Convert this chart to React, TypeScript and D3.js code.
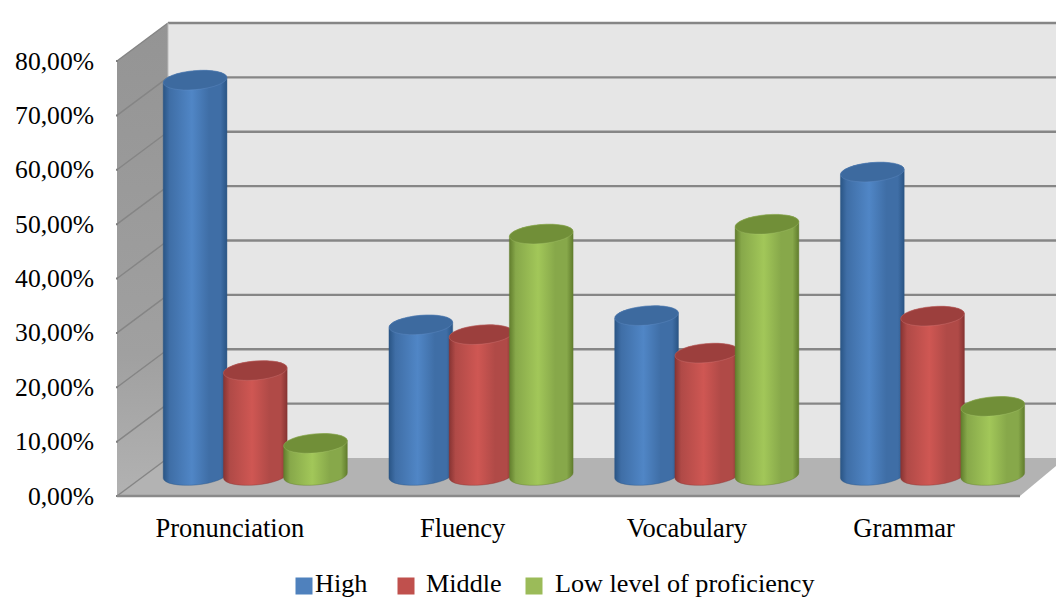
import React from "react";
import * as d3 from "d3";

const categories = ["Pronunciation", "Fluency", "Vocabulary", "Grammar"];
const seriesNames = ["High", "Middle", "Low level of proficiency"];
const high = [72.8, 27.8, 29.5, 55.9];
const middle = [19.4, 26, 22.6, 29.4];
const low = [6, 44.5, 46.3, 12.8];
const yTicks = [0, 10, 20, 30, 40, 50, 60, 70, 80];
const seriesValues = [high, middle, low];

const W = 1056;
const H = 598;
// Oblique projection: the back wall sits up and to the right of the front plane.
const frontLeft = 117;
const frontRight = 1020;
const depthX = 51;
const depthY = 38;
const barDepthX = 25.4;
const barDepthY = 20;
const barWidth = 64;
const ry = 9.5;
const tilt = -5;

const palettes = [
  { id: "hi", edge: "#2a5585", shade: "#3f6ea6", mid: "#5086c6", top: "#3d6a9f", rim: "#6f9ad0", swatch: "#4f81bd" },
  { id: "mi", edge: "#873433", shade: "#b04a47", mid: "#cf5753", top: "#9c3f3d", rim: "#dd8888", swatch: "#c0504d" },
  { id: "lo", edge: "#617d2d", shade: "#87a84a", mid: "#a2c759", top: "#718f38", rim: "#b3cf7c", swatch: "#9bbb59" },
];

const legendItems = [
  { sx: 296, tx: 315 },
  { sx: 398, tx: 426 },
  { sx: 526, tx: 555 },
];
const labelNudge = [0, 7, 5.5, -3];

const y = d3.scaleLinear().domain([0, 80]).range([496, 61]);
const xBand = d3.scaleBand<string>().domain(categories).range([frontLeft, frontRight]);
const xSeries = d3.scaleBand<string>().domain(seriesNames).range([-90.3, 90.3]);

const fmt = (v: number) => d3.format(".2f")(v).replace(".", ",") + "%";

function cylinderParts(cx: number, topY: number, baseY: number) {
  const rad = (tilt * Math.PI) / 180;
  const rx = barWidth / 2;
  const dx = rx * Math.cos(rad);
  const dy = rx * Math.sin(rad);
  const side =
    `M${cx - dx},${topY - dy}L${cx - dx},${baseY - dy}` +
    `A${rx},${ry} ${tilt} 0 0 ${cx + dx},${baseY + dy}` +
    `L${cx + dx},${topY + dy}` +
    `A${rx},${ry} ${tilt} 0 0 ${cx - dx},${topY - dy}Z`;
  return { side, rx };
}

function Gradients() {
  return (
    <defs>
      <linearGradient id="sideWall" x1="0" y1="0" x2="0" y2="1">
        <stop offset="0" stopColor="#949494" />
        <stop offset="0.7" stopColor="#a0a0a0" />
        <stop offset="1" stopColor="#b2b2b2" />
      </linearGradient>
      {palettes.map((p) => (
        <linearGradient key={p.id} id={`body-${p.id}`} x1="0" y1="0" x2="1" y2="0">
          <stop offset="0" stopColor={p.edge} />
          <stop offset="0.1" stopColor={p.shade} />
          <stop offset="0.45" stopColor={p.mid} />
          <stop offset="0.72" stopColor={p.shade} />
          <stop offset="0.9" stopColor={p.shade} />
          <stop offset="1" stopColor={p.edge} />
        </linearGradient>
      ))}
    </defs>
  );
}

export default function App() {
  const back = (v: number) => y(v) - depthY;
  return (
    <svg
      width={W}
      height={H}
      viewBox={`0 0 ${W} ${H}`}
      style={{ position: "absolute", left: 0, top: 0, background: "#fff" }}
      fontFamily="'Liberation Serif', serif"
    >
      <Gradients />
      {/* Walls and floor */}
      <rect x={frontLeft + depthX} y={back(80)} width={W - frontLeft - depthX} height={y(0) - y(80)} fill="#e6e6e6" />
      <polygon
        points={`${frontLeft},${y(80)} ${frontLeft + depthX},${back(80)} ${frontLeft + depthX},${back(0)} ${frontLeft},${y(0)}`}
        fill="url(#sideWall)"
      />
      <polygon
        points={`${frontLeft},${y(0)} ${frontLeft + depthX},${back(0)} ${W},${back(0)} ${W},${y(0) - 30} ${frontRight},${y(0)}`}
        fill="#b3b3b3"
      />
      {/* Gridlines across the side and back walls */}
      {yTicks.map((t) => (
        <g key={t}>
          <line x1={frontLeft} y1={y(t)} x2={frontLeft + depthX} y2={back(t)} stroke="#858585" strokeWidth={1.5} />
          {t > 0 && (
            <line x1={frontLeft + depthX} y1={back(t)} x2={W} y2={back(t)} stroke="#868686" strokeWidth={2.4} />
          )}
          <line x1={frontLeft - 1} y1={y(t)} x2={frontLeft + 1} y2={y(t)} stroke="#808080" strokeWidth={2} />
        </g>
      ))}
      <line x1={frontLeft} y1={y(0)} x2={frontRight} y2={y(0)} stroke="#8a8a8a" strokeWidth={2.4} />
      <line x1={frontLeft + depthX} y1={back(80)} x2={frontLeft + depthX} y2={back(0)} stroke="#bdbdbd" strokeWidth={1} />

      {/* Cylinders: later series overlap earlier ones */}
      {categories.map((c, i) =>
        seriesNames.map((s, j) => {
          const cx = xBand(c)! + xBand.bandwidth() / 2 + barDepthX + xSeries(s)! + xSeries.bandwidth() / 2;
          const topY = y(seriesValues[j][i]) - barDepthY;
          const baseY = y(0) - barDepthY - 0.5;
          const p = palettes[j];
          const { side, rx } = cylinderParts(cx, topY, baseY);
          return (
            <g key={s + c}>
              <path d={side} fill={`url(#body-${p.id})`} stroke={p.edge} strokeOpacity={0.5} strokeWidth={0.8} />
              <ellipse
                cx={cx}
                cy={topY}
                rx={rx}
                ry={ry}
                transform={`rotate(${tilt} ${cx} ${topY})`}
                fill={p.top}
                stroke={p.rim}
                strokeOpacity={0.35}
                strokeWidth={0.8}
              />
            </g>
          );
        })
      )}

      {/* Value axis labels */}
      {yTicks.map((t) => (
        <text key={t} x={94} y={y(t) + 8.5} textAnchor="end" fontSize={25.6} fill="#000">
          {fmt(t)}
        </text>
      ))}
      {/* Category labels */}
      {categories.map((c, i) => (
        <text
          key={c}
          x={xBand(c)! + xBand.bandwidth() / 2 + labelNudge[i]}
          y={537}
          textAnchor="middle"
          fontSize={26.5}
          fill="#000"
        >
          {c}
        </text>
      ))}
      {/* Legend */}
      {seriesNames.map((s, j) => (
        <g key={s}>
          <rect
            x={legendItems[j].sx}
            y={578}
            width={16}
            height={16}
            fill={palettes[j].swatch}
            stroke={palettes[j].swatch}
            strokeWidth={1}
          />
          <text x={legendItems[j].tx} y={592} fontSize={26.2} fill="#000">
            {s}
          </text>
        </g>
      ))}
    </svg>
  );
}
